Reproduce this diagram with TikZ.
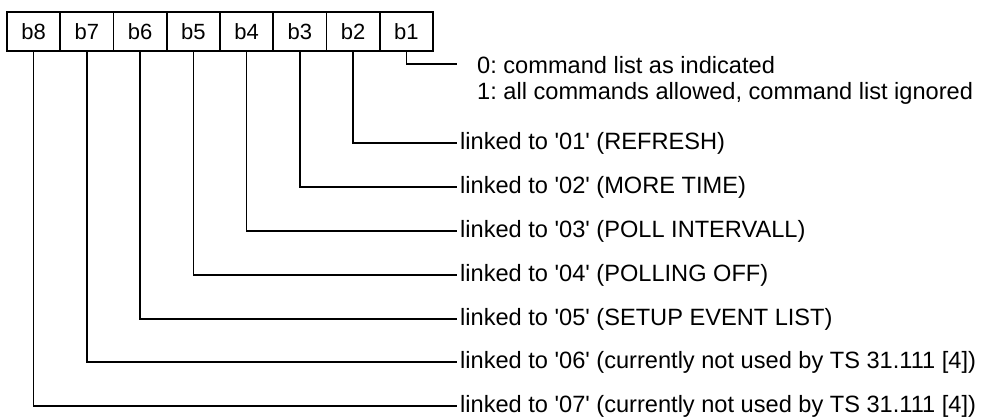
\documentclass[tikz,border=0pt]{standalone}
\usepackage{fontspec}
\setmainfont{Liberation Sans}
\newcommand{\sq}{\textquotesingle}
\frenchspacing
\begin{document}
\begin{tikzpicture}[x=1pt,y=-1pt,
 bitbox/.style={draw, line width=1.6pt, minimum width=53.25pt, minimum height=39pt, inner sep=0pt, font=\fontsize{22}{26}\selectfont},
 lbl/.style={anchor=west, inner xsep=3pt, inner ysep=0pt, font=\fontsize{23.6}{27}\selectfont},
 note/.style={anchor=base west, inner sep=0pt, font=\fontsize{23.6}{27}\selectfont},
 conn/.style={line width=1.6pt}]
\useasboundingbox (0,0) rectangle (992,418);
\node[bitbox] (B8) at (33.6,31.5) {b8};
\node[bitbox] (B7) at (86.9,31.5) {b7};
\node[bitbox] (B6) at (140.1,31.5) {b6};
\node[bitbox] (B5) at (193.4,31.5) {b5};
\node[bitbox] (B4) at (246.6,31.5) {b4};
\node[bitbox] (B3) at (299.9,31.5) {b3};
\node[bitbox] (B2) at (353.1,31.5) {b2};
\node[bitbox] (B1) at (406.4,31.5) {b1};

\coordinate (E1) at (457,64);
\node[note] (N0) at (477,73) {0: command list as indicated};
\node[note] (N1) at (477,99) {1: all commands allowed, command list ignored};

\node[lbl] (T2) at (457,143) {linked to \sq01\sq{} (REFRESH)};
\node[lbl] (T3) at (457,187) {linked to \sq02\sq{} (MORE TIME)};
\node[lbl] (T4) at (457,231) {linked to \sq03\sq{} (POLL INTERVALL)};
\node[lbl] (T5) at (457,275) {linked to \sq04\sq{} (POLLING OFF)};
\node[lbl] (T6) at (457,319) {linked to \sq05\sq{} (SETUP EVENT LIST)};
\node[lbl] (T7) at (457,362) {linked to \sq06\sq{} (currently not used by TS 31.111 [4])};
\node[lbl] (T8) at (457,406) {linked to \sq07\sq{} (currently not used by TS 31.111 [4])};

\draw[conn] (B1.south) |- (E1);
\draw[conn] (B2.south) |- (T2.west);
\draw[conn] (B3.south) |- (T3.west);
\draw[conn] (B4.south) |- (T4.west);
\draw[conn] (B5.south) |- (T5.west);
\draw[conn] (B6.south) |- (T6.west);
\draw[conn] (B7.south) |- (T7.west);
\draw[conn] (B8.south) |- (T8.west);
\end{tikzpicture}
\end{document}
